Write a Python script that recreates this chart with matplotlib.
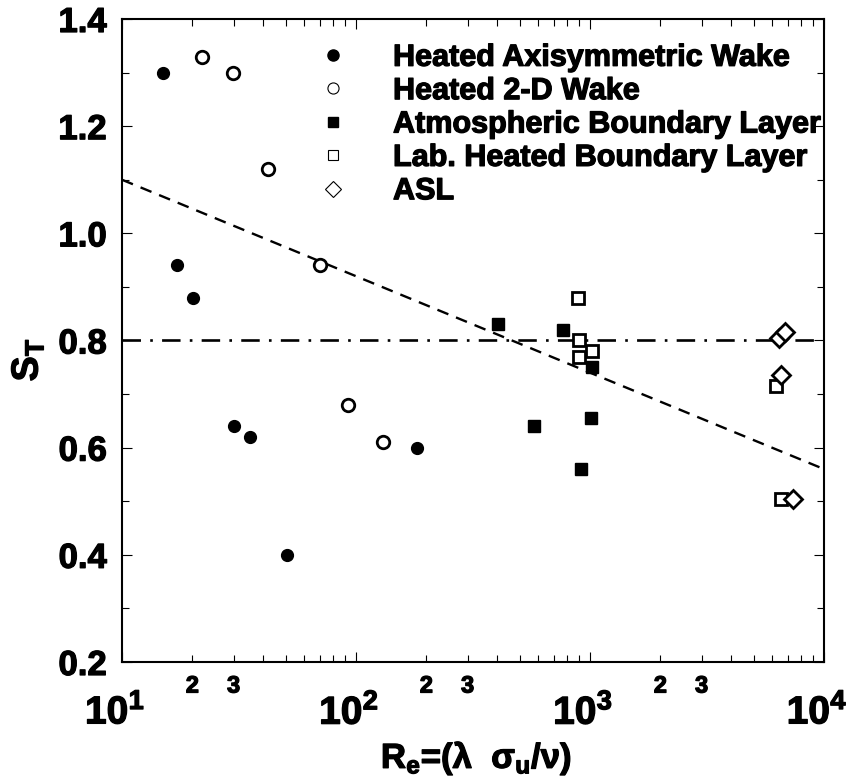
import numpy as np
import matplotlib
matplotlib.use('Agg')
import matplotlib.pyplot as plt
import matplotlib.transforms as mtransforms
import matplotlib.patheffects as pe
from matplotlib.ticker import LogLocator, FuncFormatter, MultipleLocator
from matplotlib.lines import Line2D

plt.rcParams['font.family'] = ['Liberation Sans', 'DejaVu Sans']
plt.rcParams['font.weight'] = 'bold'
plt.rcParams['mathtext.fontset'] = 'custom'
plt.rcParams['mathtext.rm'] = 'Liberation Sans:bold'
plt.rcParams['mathtext.bf'] = 'Liberation Sans:bold'
plt.rcParams['mathtext.it'] = 'Liberation Sans:bold'

# ---- data ----
axi_re = [15.0, 17.1, 20.2, 30.2, 35.3, 50.8, 181.5]
axi_st = [1.30, 0.94, 0.88, 0.64, 0.62, 0.40, 0.60]

wake2d_re = [22.0, 29.9, 42.2, 70.1, 92.7, 131.0]
wake2d_st = [1.33, 1.30, 1.12, 0.94, 0.68, 0.61]

abl_re = [403, 764, 576, 1014, 918, 1016]
abl_st = [0.83, 0.82, 0.64, 0.655, 0.56, 0.75]

lab_re = [885, 897, 900, 1020, 6240, 6550]
lab_st = [0.88, 0.80, 0.77, 0.78, 0.715, 0.505]

asl_re = [6440, 6810, 6530, 7400]
asl_st = [0.805, 0.815, 0.735, 0.505]

fit_re = [10, 1e4]
fit_st = [1.10, 0.56]
ref_re = [10, 1e4]
ref_st = [0.80, 0.80]

labels = ['Heated Axisymmetric Wake', 'Heated 2-D Wake', 'Atmospheric Boundary Layer',
          'Lab. Heated Boundary Layer', 'ASL']

bold = [pe.withStroke(linewidth=0.9, foreground='black')]

fig = plt.figure(figsize=(8.51, 7.76), dpi=100)
ax = fig.add_axes([122/851, 114/776, 702/851, 643/776])

ax.plot(fit_re, fit_st, color='black', lw=1.7, dashes=(5, 3.5))
ax.plot(ref_re, ref_st, color='black', lw=1.9, dashes=(7, 3.5, 1, 3.5))

ax.plot(axi_re, axi_st, 'o', ms=8.5, color='black', ls='none')
ax.plot(wake2d_re, wake2d_st, 'o', ms=9, mfc='white', mec='black', mew=2, ls='none')
ax.plot(abl_re, abl_st, 's', ms=8, color='black', ls='none')
ax.plot(lab_re, lab_st, 's', ms=8.5, mfc='white', mec='black', mew=2, ls='none')
ax.plot(asl_re, asl_st, 'D', ms=9, mfc='white', mec='black', mew=2, ls='none')

ax.set_xscale('log')
ax.set_xlim(10, 1e4)
ax.set_ylim(0.2, 1.4)

# ticks
ax.xaxis.set_major_locator(LogLocator(base=10))
ax.xaxis.set_minor_locator(LogLocator(base=10, subs=np.arange(2, 10)))
ax.xaxis.set_major_formatter(FuncFormatter(lambda v, p: r'$\mathbf{10^{%d}}$' % round(np.log10(v))))

def minor_fmt(v, p):
    m = v / 10**np.floor(np.log10(v) + 1e-9)
    k = int(round(m))
    return str(k) if k in (2, 3) else ''

ax.xaxis.set_minor_formatter(FuncFormatter(minor_fmt))
ax.yaxis.set_major_locator(MultipleLocator(0.2))
ax.yaxis.set_minor_locator(MultipleLocator(0.1))
ax.yaxis.set_major_formatter(FuncFormatter(lambda v, p: '%.1f' % v))

ax.tick_params(which='both', direction='in', top=True, right=True, width=0.8)
ax.tick_params(which='major', length=7)
ax.tick_params(which='minor', length=5)
ax.tick_params(axis='y', which='major', labelsize=25, pad=11)
ax.tick_params(axis='x', which='major', labelsize=28, pad=23)
ax.tick_params(axis='x', which='minor', labelsize=17, pad=9)

for s in ax.spines.values():
    s.set_linewidth(1.5)

# major x labels sit a little left of their ticks in the original
shift = mtransforms.ScaledTranslation(-7/100, 0, fig.dpi_scale_trans)
for t in ax.xaxis.get_major_ticks():
    t.label1.set_transform(t.label1.get_transform() + shift)
for t in ax.get_xticklabels(which='both') + ax.get_yticklabels():
    t.set_path_effects(bold)

ylab = ax.set_ylabel(r'S$_\mathbf{T}$', fontsize=27, fontweight='bold')
ylab.set_va('center')
ylab.set_rotation_mode('anchor')
ax.yaxis.set_label_coords(-0.135, 0.47)
xlab = ax.set_xlabel(r'R$_\mathbf{e}$=(λ  σ$_\mathbf{u}$/ν)', fontsize=25, fontweight='bold')
ax.xaxis.set_label_coords(0.505, -0.12)

handles = [
    Line2D([], [], marker='o', ls='none', ms=8, color='black'),
    Line2D([], [], marker='o', ls='none', ms=8, mfc='white', mec='black', mew=0.8),
    Line2D([], [], marker='s', ls='none', ms=7, color='black'),
    Line2D([], [], marker='s', ls='none', ms=7.5, mfc='white', mec='black', mew=0.8),
    Line2D([], [], marker='D', ls='none', ms=8, mfc='white', mec='black', mew=0.8),
]
leg = ax.legend(handles, labels, loc='upper left', bbox_to_anchor=(0.279, 0.963),
                frameon=False, borderpad=0, borderaxespad=0, handlelength=1.0,
                handletextpad=1.46, labelspacing=0.11,
                prop={'family': 'Liberation Sans', 'weight': 'bold', 'size': 22})
for t in leg.get_texts():
    t.set_path_effects(bold)
ylab.set_path_effects(bold)
xlab.set_path_effects(bold)

fig.savefig('out.png', dpi=100)
